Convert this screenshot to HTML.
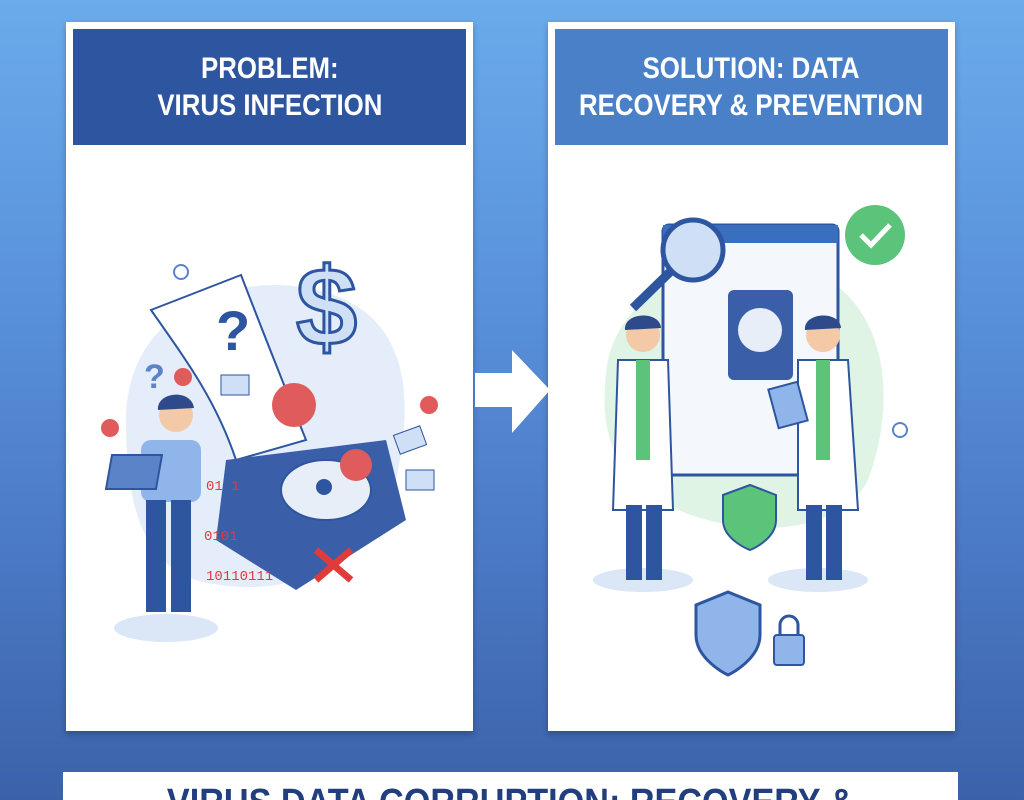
<!DOCTYPE html>
<html><head><meta charset="utf-8"><style>
html,body{margin:0;padding:0;width:1024px;height:800px;overflow:hidden}
body{position:relative;font-family:"Liberation Sans",sans-serif;
background:linear-gradient(180deg,#6aabeb 0%,#5a93dc 35%,#4a78c4 70%,#3b62a9 100%);}
.panel{position:absolute;top:22px;width:407px;height:709px;background:#fff;box-shadow:0 3px 6px rgba(0,0,0,.25)}
.hdr{position:absolute;left:7px;top:7px;width:393px;height:116px;color:#fff;font-weight:bold;font-size:30px;line-height:37px;text-align:center;display:flex;align-items:center;justify-content:center;white-space:nowrap}
.hdr span{display:inline-block;transform:scaleX(0.86)}
.bot{position:absolute;left:63px;top:772px;width:895px;height:28px;background:#fff;overflow:hidden}
.bot span{position:absolute;left:0;width:895px;top:12px;text-align:center;color:#223e7c;font-weight:bold;font-size:38px;line-height:38px;white-space:nowrap;transform:scaleX(0.9)}
svg{position:absolute}
</style></head><body>
<div class="panel" style="left:66px"><div class="hdr" style="background:#2e55a0"><span>PROBLEM:<br>VIRUS INFECTION</span></div></div>
<div class="panel" style="left:548px"><div class="hdr" style="background:#4a80c8"><span>SOLUTION: DATA<br>RECOVERY &amp; PREVENTION</span></div></div>

<svg width="90" height="100" style="left:470px;top:345px"><polygon points="5,28 42,28 42,5 80,45 42,88 42,62 5,62" fill="#fff"/></svg>

<svg width="407" height="560" style="left:66px;top:160px" viewBox="0 0 407 560">
<path d="M60,260 C60,150 170,110 250,130 C340,150 350,230 330,320 C310,420 200,440 130,420 C70,400 60,330 60,260Z" fill="#e4edf9"/>
<ellipse cx="100" cy="468" rx="52" ry="14" fill="#dbe6f6"/>
<path d="M85,150 L175,115 C200,180 220,230 240,280 L170,300 C150,240 120,200 85,150Z" fill="#fff" stroke="#2e55a0" stroke-width="2"/>
<text x="150" y="190" font-size="56" font-weight="bold" fill="#2e55a0" font-family="Liberation Sans">?</text>
<text x="78" y="228" font-size="34" font-weight="bold" fill="#5a83c8" font-family="Liberation Sans">?</text>
<text x="230" y="185" font-size="110" font-weight="bold" fill="#cfe0f6" stroke="#2e55a0" stroke-width="3" font-family="Liberation Sans">$</text>
<path d="M160,300 L320,280 L340,360 L230,430 L150,380Z" fill="#3a5fa8"/>
<ellipse cx="260" cy="330" rx="45" ry="30" fill="#e8eef8" stroke="#2e55a0" stroke-width="2"/>
<circle cx="258" cy="327" r="8" fill="#2e55a0"/>
<path d="M250,390 L285,420 M285,390 L250,420" stroke="#e03b3b" stroke-width="7"/>
<circle cx="228" cy="245" r="22" fill="#e05b5b"/><circle cx="290" cy="305" r="16" fill="#e05b5b"/>
<circle cx="117" cy="217" r="9" fill="#e05b5b"/><circle cx="44" cy="268" r="9" fill="#e05b5b"/><circle cx="363" cy="245" r="9" fill="#e05b5b"/>
<circle cx="115" cy="112" r="7" fill="none" stroke="#5a83c8" stroke-width="2"/>
<text x="140" y="330" font-size="14" fill="#e03b3b" font-family="Liberation Mono">01 1</text>
<text x="138" y="380" font-size="14" fill="#e03b3b" font-family="Liberation Mono">0101</text>
<text x="140" y="420" font-size="14" fill="#e03b3b" font-family="Liberation Mono">10110111</text>
<rect x="330" y="270" width="28" height="20" fill="#cfe0f6" stroke="#2e55a0" transform="rotate(-20 344 280)"/>
<rect x="155" y="215" width="28" height="20" fill="#cfe0f6" stroke="#2e55a0"/>
<rect x="340" y="310" width="28" height="20" fill="#cfe0f6" stroke="#2e55a0"/>
<circle cx="110" cy="255" r="17" fill="#f3c9a8"/><path d="M92,250 C90,232 125,228 128,248" fill="#2e4a8a"/>
<rect x="75" y="280" width="60" height="62" rx="10" fill="#8fb5ea"/>
<rect x="80" y="340" width="20" height="112" fill="#2e55a0"/><rect x="105" y="340" width="20" height="112" fill="#2e55a0"/>
<rect x="98" y="295" width="50" height="34" fill="#5a83c8" stroke="#2e55a0" stroke-width="2" transform="skewX(-10)"/>
</svg>

<svg width="407" height="560" style="left:548px;top:160px" viewBox="0 0 407 560">
<path d="M60,200 C80,110 200,90 260,110 C340,140 350,240 320,320 C290,380 180,380 110,340 C60,310 50,260 60,200Z" fill="#e0f4e6"/>
<ellipse cx="95" cy="420" rx="50" ry="12" fill="#dbe6f6"/><ellipse cx="270" cy="420" rx="50" ry="12" fill="#dbe6f6"/>
<rect x="115" y="65" width="175" height="250" rx="6" fill="#f4f8fd" stroke="#2e55a0" stroke-width="3"/>
<rect x="115" y="65" width="175" height="18" fill="#3a6fc0"/>
<rect x="180" y="130" width="65" height="90" rx="6" fill="#3a5fa8"/><circle cx="212" cy="170" r="22" fill="#e8eef8"/>
<circle cx="145" cy="90" r="30" fill="#cfe0f6" stroke="#2e55a0" stroke-width="5"/>
<line x1="122" y1="112" x2="85" y2="148" stroke="#2e55a0" stroke-width="9"/>
<circle cx="327" cy="75" r="30" fill="#5cc47a"/><path d="M313,75 L323,85 L342,65" stroke="#fff" stroke-width="5" fill="none"/>
<path d="M175,335 L202,325 L228,335 L228,360 C228,380 202,390 202,390 C202,390 175,380 175,360Z" fill="#5cc47a" stroke="#2e55a0" stroke-width="2"/>
<path d="M148,445 L180,432 L212,445 L212,475 C212,500 180,515 180,515 C180,515 148,500 148,475Z" fill="#8fb5ea" stroke="#2e55a0" stroke-width="3"/>
<rect x="226" y="475" width="30" height="30" rx="3" fill="#8fb5ea" stroke="#2e55a0" stroke-width="2"/>
<path d="M232,475 v-10 a9,9 0 0 1 18,0 v10" fill="none" stroke="#2e55a0" stroke-width="3"/>
<circle cx="352" cy="270" r="7" fill="none" stroke="#5a83c8" stroke-width="2"/>
<circle cx="95" cy="175" r="17" fill="#f3c9a8"/><path d="M77,170 C75,152 112,150 113,168" fill="#2e4a8a"/>
<path d="M70,200 L120,200 L125,350 L65,350Z" fill="#fff" stroke="#2e55a0" stroke-width="2"/>
<rect x="88" y="200" width="14" height="100" fill="#5cc47a"/>
<rect x="78" y="345" width="16" height="75" fill="#2e55a0"/><rect x="98" y="345" width="16" height="75" fill="#2e55a0"/>
<circle cx="275" cy="175" r="17" fill="#f3c9a8"/><path d="M257,170 C255,152 292,150 293,168" fill="#2e4a8a"/>
<path d="M250,200 L300,200 L310,350 L250,350Z" fill="#fff" stroke="#2e55a0" stroke-width="2"/>
<rect x="268" y="200" width="14" height="100" fill="#5cc47a"/>
<rect x="258" y="345" width="16" height="75" fill="#2e55a0"/><rect x="278" y="345" width="16" height="75" fill="#2e55a0"/>
<rect x="225" y="225" width="30" height="40" fill="#8fb5ea" stroke="#2e55a0" stroke-width="2" transform="rotate(-15 240 245)"/>
</svg>

<div class="bot"><span>VIRUS DATA CORRUPTION: RECOVERY &amp;</span></div>
</body></html>
